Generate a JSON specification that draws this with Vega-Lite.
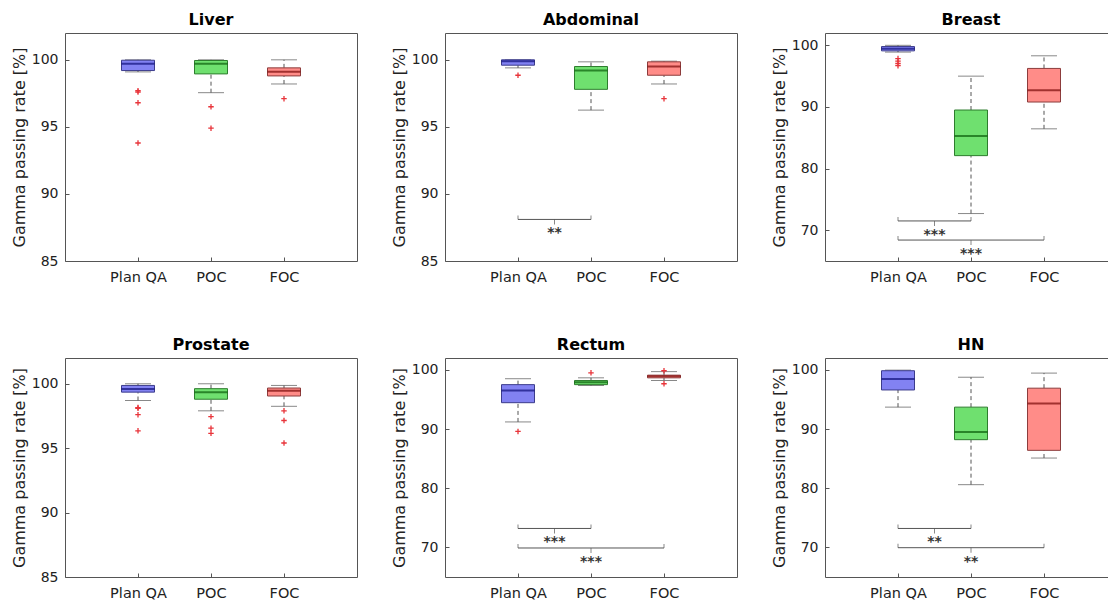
{
"$schema": "https://vega.github.io/schema/vega-lite/v6.json",
"padding": {"left": 10, "top": 11, "right": 0, "bottom": 0},
"datasets": {"all": [
{"kind":"box","panel":"Liver","group":"Plan QA","lw":99.1,"q1":99.2,"median":99.7,"q3":99.97,"uw":100.0},
{"kind":"box","panel":"Liver","group":"POC","lw":97.55,"q1":98.95,"median":99.7,"q3":99.95,"uw":100.0},
{"kind":"box","panel":"Liver","group":"FOC","lw":98.2,"q1":98.8,"median":99.12,"q3":99.4,"uw":100.0},
{"kind":"box","panel":"Abdominal","group":"Plan QA","lw":99.4,"q1":99.6,"median":99.9,"q3":100.0,"uw":100.0},
{"kind":"box","panel":"Abdominal","group":"POC","lw":96.25,"q1":97.8,"median":99.2,"q3":99.5,"uw":99.85},
{"kind":"box","panel":"Abdominal","group":"FOC","lw":98.2,"q1":98.85,"median":99.5,"q3":99.85,"uw":99.9},
{"kind":"box","panel":"Breast","group":"Plan QA","lw":98.9,"q1":99.1,"median":99.45,"q3":99.8,"uw":100.0},
{"kind":"box","panel":"Breast","group":"POC","lw":72.7,"q1":82.1,"median":85.3,"q3":89.5,"uw":95.0},
{"kind":"box","panel":"Breast","group":"FOC","lw":86.45,"q1":90.8,"median":92.7,"q3":96.25,"uw":98.3},
{"kind":"box","panel":"Prostate","group":"Plan QA","lw":98.7,"q1":99.35,"median":99.6,"q3":99.87,"uw":100.0},
{"kind":"box","panel":"Prostate","group":"POC","lw":97.9,"q1":98.8,"median":99.35,"q3":99.62,"uw":100.0},
{"kind":"box","panel":"Prostate","group":"FOC","lw":98.25,"q1":99.05,"median":99.45,"q3":99.67,"uw":99.87},
{"kind":"box","panel":"Rectum","group":"Plan QA","lw":91.2,"q1":94.45,"median":96.5,"q3":97.5,"uw":98.5},
{"kind":"box","panel":"Rectum","group":"POC","lw":97.35,"q1":97.5,"median":97.9,"q3":98.2,"uw":98.65},
{"kind":"box","panel":"Rectum","group":"FOC","lw":98.2,"q1":98.65,"median":98.9,"q3":99.1,"uw":99.7},
{"kind":"box","panel":"HN","group":"Plan QA","lw":93.7,"q1":96.6,"median":98.45,"q3":99.85,"uw":99.95},
{"kind":"box","panel":"HN","group":"POC","lw":80.6,"q1":88.2,"median":89.5,"q3":93.7,"uw":98.75},
{"kind":"box","panel":"HN","group":"FOC","lw":85.1,"q1":86.4,"median":94.3,"q3":96.9,"uw":99.45},
{"kind":"out","panel":"Liver","group":"Plan QA","v":97.7},
{"kind":"out","panel":"Liver","group":"Plan QA","v":97.6},
{"kind":"out","panel":"Liver","group":"Plan QA","v":96.8},
{"kind":"out","panel":"Liver","group":"Plan QA","v":93.8},
{"kind":"out","panel":"Liver","group":"POC","v":96.5},
{"kind":"out","panel":"Liver","group":"POC","v":94.9},
{"kind":"out","panel":"Liver","group":"FOC","v":97.1},
{"kind":"out","panel":"Abdominal","group":"Plan QA","v":98.85},
{"kind":"out","panel":"Abdominal","group":"FOC","v":97.1},
{"kind":"out","panel":"Breast","group":"Plan QA","v":97.85},
{"kind":"out","panel":"Breast","group":"Plan QA","v":97.45},
{"kind":"out","panel":"Breast","group":"Plan QA","v":97.05},
{"kind":"out","panel":"Breast","group":"Plan QA","v":96.7},
{"kind":"out","panel":"Prostate","group":"Plan QA","v":98.15},
{"kind":"out","panel":"Prostate","group":"Plan QA","v":98.1},
{"kind":"out","panel":"Prostate","group":"Plan QA","v":97.6},
{"kind":"out","panel":"Prostate","group":"Plan QA","v":96.35},
{"kind":"out","panel":"Prostate","group":"POC","v":97.45},
{"kind":"out","panel":"Prostate","group":"POC","v":96.55},
{"kind":"out","panel":"Prostate","group":"POC","v":96.15},
{"kind":"out","panel":"Prostate","group":"FOC","v":97.9},
{"kind":"out","panel":"Prostate","group":"FOC","v":97.15},
{"kind":"out","panel":"Prostate","group":"FOC","v":95.4},
{"kind":"out","panel":"Rectum","group":"Plan QA","v":89.6},
{"kind":"out","panel":"Rectum","group":"POC","v":99.5},
{"kind":"out","panel":"Rectum","group":"FOC","v":99.85},
{"kind":"out","panel":"Rectum","group":"FOC","v":97.65},
{"kind":"sig","panel":"Abdominal","from":"Plan QA","to":"POC","level":88.1,"label":"**"},
{"kind":"sig","panel":"Breast","from":"Plan QA","to":"POC","level":71.5,"label":"***"},
{"kind":"sig","panel":"Breast","from":"Plan QA","to":"FOC","level":68.4,"label":"***"},
{"kind":"sig","panel":"Rectum","from":"Plan QA","to":"POC","level":73.2,"label":"***"},
{"kind":"sig","panel":"Rectum","from":"Plan QA","to":"FOC","level":69.9,"label":"***"},
{"kind":"sig","panel":"HN","from":"Plan QA","to":"POC","level":73.2,"label":"**"},
{"kind":"sig","panel":"HN","from":"Plan QA","to":"FOC","level":69.95,"label":"**"}
]},
"columns": 3,
"spacing": {"row": 52, "column": 32},
"concat": [
{"title": "Liver", "width": 292, "height": 228, "data": {"name": "all"},
 "transform": [{"filter": "datum.panel === 'Liver'"}, {"calculate": "indexof(['Plan QA','POC','FOC'], datum.group) + 1", "as": "i"}],
 "layer": [
  {"transform": [{"filter": "datum.kind === 'box'"}], "mark": {"type": "rule", "strokeDash": [4, 3], "color": "#555"}, "encoding": {"x": {"field": "i", "type": "quantitative"}, "y": {"field": "lw", "type": "quantitative"}, "y2": {"field": "q1"}}},
  {"transform": [{"filter": "datum.kind === 'box'"}], "mark": {"type": "rule", "strokeDash": [4, 3], "color": "#555"}, "encoding": {"x": {"field": "i", "type": "quantitative"}, "y": {"field": "q3", "type": "quantitative"}, "y2": {"field": "uw"}}},
  {"transform": [{"filter": "datum.kind === 'box'"}, {"fold": ["lw", "uw"], "as": ["k", "cap"]}], "mark": {"type": "tick", "orient": "horizontal", "size": 26, "thickness": 1, "color": "#555"}, "encoding": {"x": {"field": "i", "type": "quantitative"}, "y": {"field": "cap", "type": "quantitative"}}},
  {"transform": [{"filter": "datum.kind === 'box'"}], "mark": {"type": "bar", "orient": "vertical", "size": 33, "strokeWidth": 1},
   "encoding": {"x": {"field": "i", "type": "quantitative", "scale": {"domain": [0, 4], "padding": 0, "nice": false, "zero": false}, "axis": {"title": null, "values": [1, 2, 3], "labelExpr": "datum.value === 1 ? 'Plan QA' : datum.value === 2 ? 'POC' : 'FOC'"}},
    "y": {"field": "q1", "type": "quantitative", "scale": {"domain": [85, 102], "nice": false, "zero": false}, "axis": {"title": "Gamma passing rate [%]", "values": [85, 90, 95, 100]}},
    "y2": {"field": "q3"},
    "fill": {"field": "group", "type": "nominal", "scale": {"domain": ["Plan QA", "POC", "FOC"], "range": ["#8282f2", "#6fe06f", "#ff8c88"]}, "legend": null},
    "stroke": {"field": "group", "type": "nominal", "scale": {"domain": ["Plan QA", "POC", "FOC"], "range": ["#3c3c8c", "#2e7d2e", "#8c3c3c"]}, "legend": null}}},
  {"transform": [{"filter": "datum.kind === 'box'"}], "mark": {"type": "tick", "orient": "horizontal", "size": 33, "thickness": 2}, "encoding": {"x": {"field": "i", "type": "quantitative"}, "y": {"field": "median", "type": "quantitative"}, "color": {"field": "group", "type": "nominal", "scale": {"domain": ["Plan QA", "POC", "FOC"], "range": ["#10107a", "#0b5e0b", "#7a0a0a"]}, "legend": null}}},
  {"transform": [{"filter": "datum.kind === 'out'"}], "mark": {"type": "point", "shape": "M-1,0L1,0M0,-1L0,1", "filled": false, "stroke": "#e8343a", "strokeWidth": 1.3, "size": 30, "opacity": 1}, "encoding": {"x": {"field": "i", "type": "quantitative"}, "y": {"field": "v", "type": "quantitative"}}}
 ]},
{"title": "Abdominal", "width": 292, "height": 228, "data": {"name": "all"},
 "transform": [{"filter": "datum.panel === 'Abdominal'"}, {"calculate": "indexof(['Plan QA','POC','FOC'], datum.group) + 1", "as": "i"}, {"calculate": "indexof(['Plan QA','POC','FOC'], datum.from) + 1", "as": "a"}, {"calculate": "indexof(['Plan QA','POC','FOC'], datum.to) + 1", "as": "b"}, {"calculate": "(datum.a + datum.b) / 2", "as": "m"}],
 "layer": [
  {"transform": [{"filter": "datum.kind === 'box'"}], "mark": {"type": "rule", "strokeDash": [4, 3], "color": "#555"}, "encoding": {"x": {"field": "i", "type": "quantitative"}, "y": {"field": "lw", "type": "quantitative"}, "y2": {"field": "q1"}}},
  {"transform": [{"filter": "datum.kind === 'box'"}], "mark": {"type": "rule", "strokeDash": [4, 3], "color": "#555"}, "encoding": {"x": {"field": "i", "type": "quantitative"}, "y": {"field": "q3", "type": "quantitative"}, "y2": {"field": "uw"}}},
  {"transform": [{"filter": "datum.kind === 'box'"}, {"fold": ["lw", "uw"], "as": ["k", "cap"]}], "mark": {"type": "tick", "orient": "horizontal", "size": 26, "thickness": 1, "color": "#555"}, "encoding": {"x": {"field": "i", "type": "quantitative"}, "y": {"field": "cap", "type": "quantitative"}}},
  {"transform": [{"filter": "datum.kind === 'box'"}], "mark": {"type": "bar", "orient": "vertical", "size": 33, "strokeWidth": 1},
   "encoding": {"x": {"field": "i", "type": "quantitative", "scale": {"domain": [0, 4], "padding": 0, "nice": false, "zero": false}, "axis": {"title": null, "values": [1, 2, 3], "labelExpr": "datum.value === 1 ? 'Plan QA' : datum.value === 2 ? 'POC' : 'FOC'"}},
    "y": {"field": "q1", "type": "quantitative", "scale": {"domain": [85, 102], "nice": false, "zero": false}, "axis": {"title": "Gamma passing rate [%]", "values": [85, 90, 95, 100]}},
    "y2": {"field": "q3"},
    "fill": {"field": "group", "type": "nominal", "scale": {"domain": ["Plan QA", "POC", "FOC"], "range": ["#8282f2", "#6fe06f", "#ff8c88"]}, "legend": null},
    "stroke": {"field": "group", "type": "nominal", "scale": {"domain": ["Plan QA", "POC", "FOC"], "range": ["#3c3c8c", "#2e7d2e", "#8c3c3c"]}, "legend": null}}},
  {"transform": [{"filter": "datum.kind === 'box'"}], "mark": {"type": "tick", "orient": "horizontal", "size": 33, "thickness": 2}, "encoding": {"x": {"field": "i", "type": "quantitative"}, "y": {"field": "median", "type": "quantitative"}, "color": {"field": "group", "type": "nominal", "scale": {"domain": ["Plan QA", "POC", "FOC"], "range": ["#10107a", "#0b5e0b", "#7a0a0a"]}, "legend": null}}},
  {"transform": [{"filter": "datum.kind === 'out'"}], "mark": {"type": "point", "shape": "M-1,0L1,0M0,-1L0,1", "filled": false, "stroke": "#e8343a", "strokeWidth": 1.3, "size": 30, "opacity": 1}, "encoding": {"x": {"field": "i", "type": "quantitative"}, "y": {"field": "v", "type": "quantitative"}}},
  {"transform": [{"filter": "datum.kind === 'sig'"}], "mark": {"type": "rule", "color": "#555"}, "encoding": {"x": {"field": "a", "type": "quantitative"}, "x2": {"field": "b"}, "y": {"field": "level", "type": "quantitative"}}},
  {"transform": [{"filter": "datum.kind === 'sig'"}, {"fold": ["a", "b"], "as": ["e", "ex"]}], "mark": {"type": "tick", "orient": "vertical", "size": 4, "thickness": 1, "yOffset": -2, "color": "#555"}, "encoding": {"x": {"field": "ex", "type": "quantitative"}, "y": {"field": "level", "type": "quantitative"}}},
  {"transform": [{"filter": "datum.kind === 'sig'"}], "mark": {"type": "tick", "orient": "vertical", "size": 5, "thickness": 1, "yOffset": 2.5, "color": "#555"}, "encoding": {"x": {"field": "m", "type": "quantitative"}, "y": {"field": "level", "type": "quantitative"}}},
  {"transform": [{"filter": "datum.kind === 'sig'"}], "mark": {"type": "text", "baseline": "top", "dy": 7, "fontSize": 14, "fontWeight": "bold", "color": "#333"}, "encoding": {"x": {"field": "m", "type": "quantitative"}, "y": {"field": "level", "type": "quantitative"}, "text": {"field": "label"}}}
 ]},
{"title": "Breast", "width": 292, "height": 228, "data": {"name": "all"},
 "transform": [{"filter": "datum.panel === 'Breast'"}, {"calculate": "indexof(['Plan QA','POC','FOC'], datum.group) + 1", "as": "i"}, {"calculate": "indexof(['Plan QA','POC','FOC'], datum.from) + 1", "as": "a"}, {"calculate": "indexof(['Plan QA','POC','FOC'], datum.to) + 1", "as": "b"}, {"calculate": "(datum.a + datum.b) / 2", "as": "m"}],
 "layer": [
  {"transform": [{"filter": "datum.kind === 'box'"}], "mark": {"type": "rule", "strokeDash": [4, 3], "color": "#555"}, "encoding": {"x": {"field": "i", "type": "quantitative"}, "y": {"field": "lw", "type": "quantitative"}, "y2": {"field": "q1"}}},
  {"transform": [{"filter": "datum.kind === 'box'"}], "mark": {"type": "rule", "strokeDash": [4, 3], "color": "#555"}, "encoding": {"x": {"field": "i", "type": "quantitative"}, "y": {"field": "q3", "type": "quantitative"}, "y2": {"field": "uw"}}},
  {"transform": [{"filter": "datum.kind === 'box'"}, {"fold": ["lw", "uw"], "as": ["k", "cap"]}], "mark": {"type": "tick", "orient": "horizontal", "size": 26, "thickness": 1, "color": "#555"}, "encoding": {"x": {"field": "i", "type": "quantitative"}, "y": {"field": "cap", "type": "quantitative"}}},
  {"transform": [{"filter": "datum.kind === 'box'"}], "mark": {"type": "bar", "orient": "vertical", "size": 33, "strokeWidth": 1},
   "encoding": {"x": {"field": "i", "type": "quantitative", "scale": {"domain": [0, 4], "padding": 0, "nice": false, "zero": false}, "axis": {"title": null, "values": [1, 2, 3], "labelExpr": "datum.value === 1 ? 'Plan QA' : datum.value === 2 ? 'POC' : 'FOC'"}},
    "y": {"field": "q1", "type": "quantitative", "scale": {"domain": [65, 102], "nice": false, "zero": false}, "axis": {"title": "Gamma passing rate [%]", "values": [70, 80, 90, 100]}},
    "y2": {"field": "q3"},
    "fill": {"field": "group", "type": "nominal", "scale": {"domain": ["Plan QA", "POC", "FOC"], "range": ["#8282f2", "#6fe06f", "#ff8c88"]}, "legend": null},
    "stroke": {"field": "group", "type": "nominal", "scale": {"domain": ["Plan QA", "POC", "FOC"], "range": ["#3c3c8c", "#2e7d2e", "#8c3c3c"]}, "legend": null}}},
  {"transform": [{"filter": "datum.kind === 'box'"}], "mark": {"type": "tick", "orient": "horizontal", "size": 33, "thickness": 2}, "encoding": {"x": {"field": "i", "type": "quantitative"}, "y": {"field": "median", "type": "quantitative"}, "color": {"field": "group", "type": "nominal", "scale": {"domain": ["Plan QA", "POC", "FOC"], "range": ["#10107a", "#0b5e0b", "#7a0a0a"]}, "legend": null}}},
  {"transform": [{"filter": "datum.kind === 'out'"}], "mark": {"type": "point", "shape": "M-1,0L1,0M0,-1L0,1", "filled": false, "stroke": "#e8343a", "strokeWidth": 1.3, "size": 30, "opacity": 1}, "encoding": {"x": {"field": "i", "type": "quantitative"}, "y": {"field": "v", "type": "quantitative"}}},
  {"transform": [{"filter": "datum.kind === 'sig'"}], "mark": {"type": "rule", "color": "#555"}, "encoding": {"x": {"field": "a", "type": "quantitative"}, "x2": {"field": "b"}, "y": {"field": "level", "type": "quantitative"}}},
  {"transform": [{"filter": "datum.kind === 'sig'"}, {"fold": ["a", "b"], "as": ["e", "ex"]}], "mark": {"type": "tick", "orient": "vertical", "size": 4, "thickness": 1, "yOffset": -2, "color": "#555"}, "encoding": {"x": {"field": "ex", "type": "quantitative"}, "y": {"field": "level", "type": "quantitative"}}},
  {"transform": [{"filter": "datum.kind === 'sig'"}], "mark": {"type": "tick", "orient": "vertical", "size": 5, "thickness": 1, "yOffset": 2.5, "color": "#555"}, "encoding": {"x": {"field": "m", "type": "quantitative"}, "y": {"field": "level", "type": "quantitative"}}},
  {"transform": [{"filter": "datum.kind === 'sig'"}], "mark": {"type": "text", "baseline": "top", "dy": 7, "fontSize": 14, "fontWeight": "bold", "color": "#333"}, "encoding": {"x": {"field": "m", "type": "quantitative"}, "y": {"field": "level", "type": "quantitative"}, "text": {"field": "label"}}}
 ]},
{"title": "Prostate", "width": 292, "height": 219, "data": {"name": "all"},
 "transform": [{"filter": "datum.panel === 'Prostate'"}, {"calculate": "indexof(['Plan QA','POC','FOC'], datum.group) + 1", "as": "i"}],
 "layer": [
  {"transform": [{"filter": "datum.kind === 'box'"}], "mark": {"type": "rule", "strokeDash": [4, 3], "color": "#555"}, "encoding": {"x": {"field": "i", "type": "quantitative"}, "y": {"field": "lw", "type": "quantitative"}, "y2": {"field": "q1"}}},
  {"transform": [{"filter": "datum.kind === 'box'"}], "mark": {"type": "rule", "strokeDash": [4, 3], "color": "#555"}, "encoding": {"x": {"field": "i", "type": "quantitative"}, "y": {"field": "q3", "type": "quantitative"}, "y2": {"field": "uw"}}},
  {"transform": [{"filter": "datum.kind === 'box'"}, {"fold": ["lw", "uw"], "as": ["k", "cap"]}], "mark": {"type": "tick", "orient": "horizontal", "size": 26, "thickness": 1, "color": "#555"}, "encoding": {"x": {"field": "i", "type": "quantitative"}, "y": {"field": "cap", "type": "quantitative"}}},
  {"transform": [{"filter": "datum.kind === 'box'"}], "mark": {"type": "bar", "orient": "vertical", "size": 33, "strokeWidth": 1},
   "encoding": {"x": {"field": "i", "type": "quantitative", "scale": {"domain": [0, 4], "padding": 0, "nice": false, "zero": false}, "axis": {"title": null, "values": [1, 2, 3], "labelExpr": "datum.value === 1 ? 'Plan QA' : datum.value === 2 ? 'POC' : 'FOC'"}},
    "y": {"field": "q1", "type": "quantitative", "scale": {"domain": [85, 102], "nice": false, "zero": false}, "axis": {"title": "Gamma passing rate [%]", "values": [85, 90, 95, 100]}},
    "y2": {"field": "q3"},
    "fill": {"field": "group", "type": "nominal", "scale": {"domain": ["Plan QA", "POC", "FOC"], "range": ["#8282f2", "#6fe06f", "#ff8c88"]}, "legend": null},
    "stroke": {"field": "group", "type": "nominal", "scale": {"domain": ["Plan QA", "POC", "FOC"], "range": ["#3c3c8c", "#2e7d2e", "#8c3c3c"]}, "legend": null}}},
  {"transform": [{"filter": "datum.kind === 'box'"}], "mark": {"type": "tick", "orient": "horizontal", "size": 33, "thickness": 2}, "encoding": {"x": {"field": "i", "type": "quantitative"}, "y": {"field": "median", "type": "quantitative"}, "color": {"field": "group", "type": "nominal", "scale": {"domain": ["Plan QA", "POC", "FOC"], "range": ["#10107a", "#0b5e0b", "#7a0a0a"]}, "legend": null}}},
  {"transform": [{"filter": "datum.kind === 'out'"}], "mark": {"type": "point", "shape": "M-1,0L1,0M0,-1L0,1", "filled": false, "stroke": "#e8343a", "strokeWidth": 1.3, "size": 30, "opacity": 1}, "encoding": {"x": {"field": "i", "type": "quantitative"}, "y": {"field": "v", "type": "quantitative"}}}
 ]},
{"title": "Rectum", "width": 292, "height": 219, "data": {"name": "all"},
 "transform": [{"filter": "datum.panel === 'Rectum'"}, {"calculate": "indexof(['Plan QA','POC','FOC'], datum.group) + 1", "as": "i"}, {"calculate": "indexof(['Plan QA','POC','FOC'], datum.from) + 1", "as": "a"}, {"calculate": "indexof(['Plan QA','POC','FOC'], datum.to) + 1", "as": "b"}, {"calculate": "(datum.a + datum.b) / 2", "as": "m"}],
 "layer": [
  {"transform": [{"filter": "datum.kind === 'box'"}], "mark": {"type": "rule", "strokeDash": [4, 3], "color": "#555"}, "encoding": {"x": {"field": "i", "type": "quantitative"}, "y": {"field": "lw", "type": "quantitative"}, "y2": {"field": "q1"}}},
  {"transform": [{"filter": "datum.kind === 'box'"}], "mark": {"type": "rule", "strokeDash": [4, 3], "color": "#555"}, "encoding": {"x": {"field": "i", "type": "quantitative"}, "y": {"field": "q3", "type": "quantitative"}, "y2": {"field": "uw"}}},
  {"transform": [{"filter": "datum.kind === 'box'"}, {"fold": ["lw", "uw"], "as": ["k", "cap"]}], "mark": {"type": "tick", "orient": "horizontal", "size": 26, "thickness": 1, "color": "#555"}, "encoding": {"x": {"field": "i", "type": "quantitative"}, "y": {"field": "cap", "type": "quantitative"}}},
  {"transform": [{"filter": "datum.kind === 'box'"}], "mark": {"type": "bar", "orient": "vertical", "size": 33, "strokeWidth": 1},
   "encoding": {"x": {"field": "i", "type": "quantitative", "scale": {"domain": [0, 4], "padding": 0, "nice": false, "zero": false}, "axis": {"title": null, "values": [1, 2, 3], "labelExpr": "datum.value === 1 ? 'Plan QA' : datum.value === 2 ? 'POC' : 'FOC'"}},
    "y": {"field": "q1", "type": "quantitative", "scale": {"domain": [65, 102], "nice": false, "zero": false}, "axis": {"title": "Gamma passing rate [%]", "values": [70, 80, 90, 100]}},
    "y2": {"field": "q3"},
    "fill": {"field": "group", "type": "nominal", "scale": {"domain": ["Plan QA", "POC", "FOC"], "range": ["#8282f2", "#6fe06f", "#ff8c88"]}, "legend": null},
    "stroke": {"field": "group", "type": "nominal", "scale": {"domain": ["Plan QA", "POC", "FOC"], "range": ["#3c3c8c", "#2e7d2e", "#8c3c3c"]}, "legend": null}}},
  {"transform": [{"filter": "datum.kind === 'box'"}], "mark": {"type": "tick", "orient": "horizontal", "size": 33, "thickness": 2}, "encoding": {"x": {"field": "i", "type": "quantitative"}, "y": {"field": "median", "type": "quantitative"}, "color": {"field": "group", "type": "nominal", "scale": {"domain": ["Plan QA", "POC", "FOC"], "range": ["#10107a", "#0b5e0b", "#7a0a0a"]}, "legend": null}}},
  {"transform": [{"filter": "datum.kind === 'out'"}], "mark": {"type": "point", "shape": "M-1,0L1,0M0,-1L0,1", "filled": false, "stroke": "#e8343a", "strokeWidth": 1.3, "size": 30, "opacity": 1}, "encoding": {"x": {"field": "i", "type": "quantitative"}, "y": {"field": "v", "type": "quantitative"}}},
  {"transform": [{"filter": "datum.kind === 'sig'"}], "mark": {"type": "rule", "color": "#555"}, "encoding": {"x": {"field": "a", "type": "quantitative"}, "x2": {"field": "b"}, "y": {"field": "level", "type": "quantitative"}}},
  {"transform": [{"filter": "datum.kind === 'sig'"}, {"fold": ["a", "b"], "as": ["e", "ex"]}], "mark": {"type": "tick", "orient": "vertical", "size": 4, "thickness": 1, "yOffset": -2, "color": "#555"}, "encoding": {"x": {"field": "ex", "type": "quantitative"}, "y": {"field": "level", "type": "quantitative"}}},
  {"transform": [{"filter": "datum.kind === 'sig'"}], "mark": {"type": "tick", "orient": "vertical", "size": 5, "thickness": 1, "yOffset": 2.5, "color": "#555"}, "encoding": {"x": {"field": "m", "type": "quantitative"}, "y": {"field": "level", "type": "quantitative"}}},
  {"transform": [{"filter": "datum.kind === 'sig'"}], "mark": {"type": "text", "baseline": "top", "dy": 7, "fontSize": 14, "fontWeight": "bold", "color": "#333"}, "encoding": {"x": {"field": "m", "type": "quantitative"}, "y": {"field": "level", "type": "quantitative"}, "text": {"field": "label"}}}
 ]},
{"title": "HN", "width": 292, "height": 219, "data": {"name": "all"},
 "transform": [{"filter": "datum.panel === 'HN'"}, {"calculate": "indexof(['Plan QA','POC','FOC'], datum.group) + 1", "as": "i"}, {"calculate": "indexof(['Plan QA','POC','FOC'], datum.from) + 1", "as": "a"}, {"calculate": "indexof(['Plan QA','POC','FOC'], datum.to) + 1", "as": "b"}, {"calculate": "(datum.a + datum.b) / 2", "as": "m"}],
 "layer": [
  {"transform": [{"filter": "datum.kind === 'box'"}], "mark": {"type": "rule", "strokeDash": [4, 3], "color": "#555"}, "encoding": {"x": {"field": "i", "type": "quantitative"}, "y": {"field": "lw", "type": "quantitative"}, "y2": {"field": "q1"}}},
  {"transform": [{"filter": "datum.kind === 'box'"}], "mark": {"type": "rule", "strokeDash": [4, 3], "color": "#555"}, "encoding": {"x": {"field": "i", "type": "quantitative"}, "y": {"field": "q3", "type": "quantitative"}, "y2": {"field": "uw"}}},
  {"transform": [{"filter": "datum.kind === 'box'"}, {"fold": ["lw", "uw"], "as": ["k", "cap"]}], "mark": {"type": "tick", "orient": "horizontal", "size": 26, "thickness": 1, "color": "#555"}, "encoding": {"x": {"field": "i", "type": "quantitative"}, "y": {"field": "cap", "type": "quantitative"}}},
  {"transform": [{"filter": "datum.kind === 'box'"}], "mark": {"type": "bar", "orient": "vertical", "size": 33, "strokeWidth": 1},
   "encoding": {"x": {"field": "i", "type": "quantitative", "scale": {"domain": [0, 4], "padding": 0, "nice": false, "zero": false}, "axis": {"title": null, "values": [1, 2, 3], "labelExpr": "datum.value === 1 ? 'Plan QA' : datum.value === 2 ? 'POC' : 'FOC'"}},
    "y": {"field": "q1", "type": "quantitative", "scale": {"domain": [65, 102], "nice": false, "zero": false}, "axis": {"title": "Gamma passing rate [%]", "values": [70, 80, 90, 100]}},
    "y2": {"field": "q3"},
    "fill": {"field": "group", "type": "nominal", "scale": {"domain": ["Plan QA", "POC", "FOC"], "range": ["#8282f2", "#6fe06f", "#ff8c88"]}, "legend": null},
    "stroke": {"field": "group", "type": "nominal", "scale": {"domain": ["Plan QA", "POC", "FOC"], "range": ["#3c3c8c", "#2e7d2e", "#8c3c3c"]}, "legend": null}}},
  {"transform": [{"filter": "datum.kind === 'box'"}], "mark": {"type": "tick", "orient": "horizontal", "size": 33, "thickness": 2}, "encoding": {"x": {"field": "i", "type": "quantitative"}, "y": {"field": "median", "type": "quantitative"}, "color": {"field": "group", "type": "nominal", "scale": {"domain": ["Plan QA", "POC", "FOC"], "range": ["#10107a", "#0b5e0b", "#7a0a0a"]}, "legend": null}}},
  {"transform": [{"filter": "datum.kind === 'sig'"}], "mark": {"type": "rule", "color": "#555"}, "encoding": {"x": {"field": "a", "type": "quantitative"}, "x2": {"field": "b"}, "y": {"field": "level", "type": "quantitative"}}},
  {"transform": [{"filter": "datum.kind === 'sig'"}, {"fold": ["a", "b"], "as": ["e", "ex"]}], "mark": {"type": "tick", "orient": "vertical", "size": 4, "thickness": 1, "yOffset": -2, "color": "#555"}, "encoding": {"x": {"field": "ex", "type": "quantitative"}, "y": {"field": "level", "type": "quantitative"}}},
  {"transform": [{"filter": "datum.kind === 'sig'"}], "mark": {"type": "tick", "orient": "vertical", "size": 5, "thickness": 1, "yOffset": 2.5, "color": "#555"}, "encoding": {"x": {"field": "m", "type": "quantitative"}, "y": {"field": "level", "type": "quantitative"}}},
  {"transform": [{"filter": "datum.kind === 'sig'"}], "mark": {"type": "text", "baseline": "top", "dy": 7, "fontSize": 14, "fontWeight": "bold", "color": "#333"}, "encoding": {"x": {"field": "m", "type": "quantitative"}, "y": {"field": "level", "type": "quantitative"}, "text": {"field": "label"}}}
 ]}
],
"config": {
 "font": "DejaVu Sans",
 "view": {"stroke": "#555", "strokeWidth": 1},
 "axis": {"grid": false, "domain": false, "tickColor": "#555", "tickSize": -4, "labelFont": "DejaVu Sans", "labelColor": "#222", "titleFont": "DejaVu Sans", "titleFontWeight": "normal", "titleColor": "#222"},
 "axisX": {"labelPadding": 13, "labelAngle": 0, "labelFontSize": 14.5},
 "axisY": {"labelPadding": 11, "labelFontSize": 14, "titleFontSize": 16, "titlePadding": 4},
 "title": {"fontSize": 16, "fontWeight": "bold", "font": "DejaVu Sans", "offset": 5, "color": "#000"}
}
}
